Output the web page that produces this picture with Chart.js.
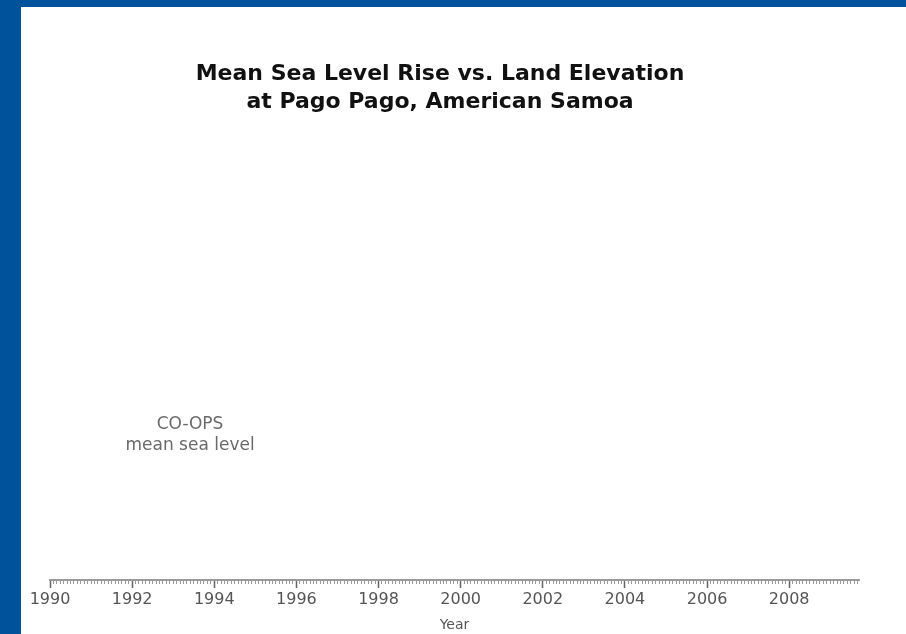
<!DOCTYPE html>
<html>
<head>
<meta charset="utf-8">
<script src="https://cdn.jsdelivr.net/npm/chart.js@4"></script>
<style>
  html, body { margin: 0; padding: 0; background: #00539B; width: 906px; height: 634px; overflow: hidden; }
  #frame { position: absolute; left: 21px; top: 7px; width: 885px; height: 627px; background: #ffffff; }
  canvas { display: block; }
</style>
</head>
<body>
<div id="frame"><canvas id="c" width="885" height="627"></canvas></div>
<script>
// ---- data ----
const titleLines = ["Mean Sea Level Rise vs. Land Elevation", "at Pago Pago, American Samoa"];
const xMin = 1990;
const xMax = 2009.7;
const majorTickYears = [1990, 1992, 1994, 1996, 1998, 2000, 2002, 2004, 2006, 2008];
const seriesLabel = ["CO-OPS", "mean sea level"];
const seriesLabelAt = { x: 1993.41, y: 30 };
const seaLevelPoints = []; // no visible series marks in the reference

const isMajor = v => majorTickYears.some(y => Math.abs(v - y) < 1e-6);

const annotationPlugin = {
  id: 'seriesAnnotation',
  afterDraw(chart) {
    const xs = chart.scales.x, ys = chart.scales.y;
    const ctx = chart.ctx;
    const cx = xs.getPixelForValue(seriesLabelAt.x);
    const cy = ys.getPixelForValue(seriesLabelAt.y);
    ctx.save();
    ctx.font = '17px "DejaVu Sans"';
    ctx.fillStyle = '#6a6a6a';
    ctx.textAlign = 'center';
    ctx.textBaseline = 'middle';
    seriesLabel.forEach((t, i) => ctx.fillText(t, cx, cy - 6 + (i - 0.5) * 21));
    ctx.restore();
  }
};

new Chart(document.getElementById('c'), {
  type: 'line',
  data: {
    datasets: [{ label: seriesLabel.join(' '), data: seaLevelPoints, borderColor: '#00539B' }]
  },
  options: {
    responsive: false,
    animation: false,
    layout: { padding: { left: 0, right: 47, top: 0, bottom: 0 } },
    plugins: {
      legend: { display: false },
      tooltip: { enabled: false },
      title: {
        display: true,
        text: titleLines,
        color: '#111111',
        font: { family: '"DejaVu Sans"', size: 22, weight: 'bold', lineHeight: 1.27 },
        padding: { top: 53, bottom: 0 }
      }
    },
    scales: {
      y: {
        display: true, min: 0, max: 100, position: 'left',
        ticks: { display: false },
        grid: { display: false, drawTicks: false },
        border: { display: false },
        afterFit(scale) { scale.width = 29; }
      },
      x: {
        type: 'linear',
        min: xMin,
        max: xMax,
        afterBuildTicks(scale) {
          const ticks = [];
          const n = Math.floor((xMax - xMin) * 12 + 1e-6);
          for (let i = 0; i <= n; i++) ticks.push({ value: xMin + i / 12 });
          scale.ticks = ticks;
        },
        border: { display: true, color: '#9a9a9a', width: 2 },
        grid: {
          drawOnChartArea: false,
          drawTicks: true,
          tickLength: 8,
          tickWidth: ctx => isMajor(ctx.tick.value) ? 1.5 : 1,
          tickColor: ctx => isMajor(ctx.tick.value) ? '#666666' : '#9a9a9a',
          tickBorderDash: ctx => isMajor(ctx.tick.value) ? [] : [3, 100]
        },
        ticks: {
          autoSkip: false,
          maxRotation: 0,
          color: '#555555',
          padding: 2,
          font: { family: '"DejaVu Sans"', size: 16 },
          callback: v => isMajor(v) ? String(Math.round(v)) : ''
        },
        title: {
          display: true,
          text: 'Year',
          color: '#555555',
          font: { family: '"DejaVu Sans"', size: 14 },
          padding: { top: 6, bottom: 0 }
        }
      }
    }
  },
  plugins: [annotationPlugin]
});
</script>
</body>
</html>
